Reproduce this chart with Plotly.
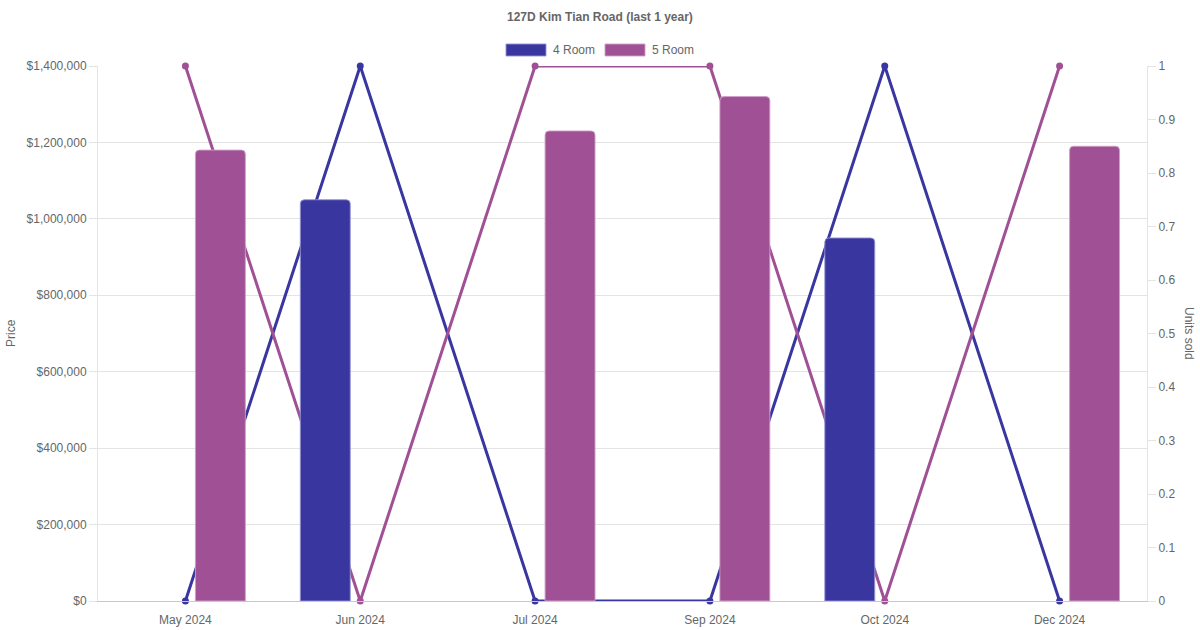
import plotly.graph_objects as go

categories = ["May 2024", "Jun 2024", "Jul 2024", "Sep 2024", "Oct 2024", "Dec 2024"]
price_4room = [None, 1050000, None, None, 950000, None]
price_5room = [1180000, None, 1230000, 1320000, None, 1190000]
units_4room = [0, 1, 0, 0, 1, 0]
units_5room = [1, 0, 1, 1, 0, 1]
price_ticks = [0, 200000, 400000, 600000, 800000, 1000000, 1200000, 1400000]
price_labels = ["$" + format(v, ",d") for v in price_ticks]
unit_ticks = [0, 0.1, 0.2, 0.3, 0.4, 0.5, 0.6, 0.7, 0.8, 0.9, 1]
unit_labels = ["%g" % v for v in unit_ticks]

C4 = "#3a36a0"
C5 = "#a05195"
FONT = "Liberation Sans, Arial, sans-serif"
GRID = "#e4e4e4"

W, H = 1200, 630
ML, MR, MT, MB = 98, 53, 66, 29
PW, PH = W - ML - MR, H - MT - MB


def px_x(p):
    return (p - ML) / PW


def px_y(p):
    return (H - MB - p) / PH


fig = go.Figure()

# lines on primary axis (drawn beneath bars)
fig.add_trace(go.Scatter(x=categories, y=units_4room, mode="lines+markers", name="4 Room",
                         line=dict(color=C4, width=3), marker=dict(size=7, color=C4),
                         yaxis="y", cliponaxis=False, showlegend=False))
fig.add_trace(go.Scatter(x=categories, y=units_5room, mode="lines+markers", name="5 Room",
                         line=dict(color=C5, width=3), marker=dict(size=7, color=C5),
                         yaxis="y", cliponaxis=False, showlegend=False))

# bars on overlay axis (drawn on top)
fig.add_trace(go.Bar(x=categories, y=price_4room, name="4 Room", yaxis="y2",
                     marker=dict(color=C4, line=dict(color="rgba(150,148,210,0.9)", width=1)),
                     showlegend=False))
fig.add_trace(go.Bar(x=categories, y=price_5room, name="5 Room", yaxis="y2",
                     marker=dict(color=C5, line=dict(color="rgba(205,160,200,0.9)", width=1)),
                     showlegend=False))

fig.update_layout(
    width=W, height=H,
    margin=dict(l=ML, r=MR, t=MT, b=MB, autoexpand=False),
    paper_bgcolor="white", plot_bgcolor="white",
    font=dict(family=FONT, size=12, color="#666"),
    barmode="group", bargap=0.2, bargroupgap=0.286, barcornerradius=4,
    showlegend=False,
    xaxis=dict(type="category", showgrid=False, showline=True, linecolor="#c8c8c8", linewidth=1,
               ticks="outside", ticklen=8, tickcolor="rgba(0,0,0,0)", automargin=False,
               tickfont=dict(family=FONT, size=12, color="#666"), zeroline=False),
    yaxis=dict(side="right", range=[0, 1], tickmode="array", tickvals=unit_ticks,
               ticktext=unit_labels, automargin=False,
               showgrid=False, zeroline=False, showline=True, linecolor=GRID, linewidth=1,
               ticks="outside", ticklen=8, tickcolor=GRID,
               tickfont=dict(family=FONT, size=12, color="#666")),
    yaxis2=dict(side="left", overlaying="y", range=[0, 1400000], tickmode="array",
                tickvals=price_ticks, ticktext=price_labels, automargin=False,
                showgrid=True, gridcolor=GRID, gridwidth=1, zeroline=False,
                showline=True, linecolor=GRID, linewidth=1,
                ticks="outside", ticklen=8, tickcolor=GRID,
                tickfont=dict(family=FONT, size=12, color="#666")),
)

annotations = [
    dict(text="<b>127D Kim Tian Road (last 1 year)</b>", xref="paper", yref="paper",
         x=px_x(600), y=px_y(17), xanchor="center", yanchor="middle", showarrow=False,
         font=dict(family=FONT, size=12, color="#666")),
    dict(text="Price", xref="paper", yref="paper", x=px_x(11), y=px_y(333), textangle=-90,
         xanchor="center", yanchor="middle", showarrow=False,
         font=dict(family=FONT, size=12, color="#666")),
    dict(text="Units sold", xref="paper", yref="paper", x=px_x(1189), y=px_y(333), textangle=90,
         xanchor="center", yanchor="middle", showarrow=False,
         font=dict(family=FONT, size=12, color="#666")),
    dict(text="4 Room", xref="paper", yref="paper", x=px_x(551), y=px_y(50),
         xanchor="left", yanchor="middle", showarrow=False,
         font=dict(family=FONT, size=12, color="#666")),
    dict(text="5 Room", xref="paper", yref="paper", x=px_x(650), y=px_y(50),
         xanchor="left", yanchor="middle", showarrow=False,
         font=dict(family=FONT, size=12, color="#666")),
]
shapes = [
    dict(type="rect", xref="paper", yref="paper", x0=px_x(506), x1=px_x(546),
         y0=px_y(56), y1=px_y(44), fillcolor=C4, line=dict(color="rgba(150,148,210,0.9)", width=1)),
    dict(type="rect", xref="paper", yref="paper", x0=px_x(605), x1=px_x(645),
         y0=px_y(56), y1=px_y(44), fillcolor=C5, line=dict(color="rgba(205,160,200,0.9)", width=1)),
]
fig.update_layout(annotations=annotations, shapes=shapes)

fig.write_html("out.html", config={"displayModeBar": False},
               post_script="document.body.style.margin='0px';document.body.style.overflow='hidden';")
